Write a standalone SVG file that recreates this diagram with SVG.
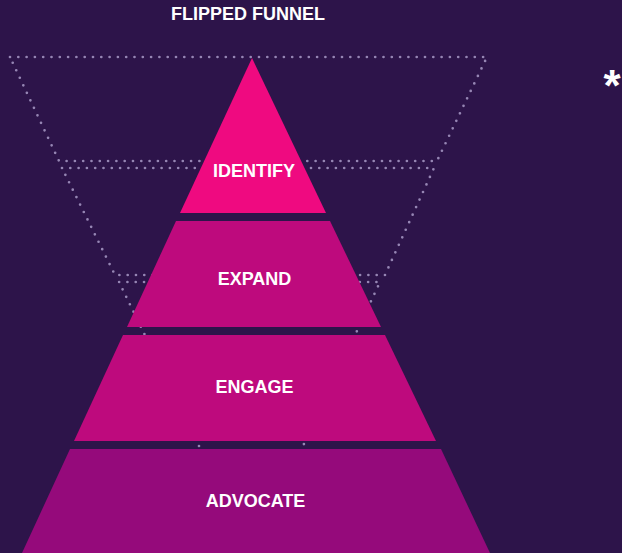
<svg xmlns="http://www.w3.org/2000/svg" width="622" height="553" viewBox="0 0 622 553">
<style>
.dot{fill:none;stroke:#9686B4;stroke-width:2.7;stroke-linecap:round;stroke-dasharray:0 8.3}
.lbl{font-family:"Liberation Sans",Arial,sans-serif;font-weight:bold;font-size:18px;fill:#FFFFFF;text-anchor:middle}
</style>
<rect width="622" height="553" fill="#2D144A"/>
<g id="funnel">
<polygon class="dot" points="10,57 487,57 437,161 59,161"/>
<polygon class="dot" points="62,168 434,168 385,275 115,275"/>
<polyline class="dot" points="199,446 119,282 380,282 303,446"/>
</g>
<g id="connectors"></g>
<g id="identify">
<polygon points="252,58 326,213 180,213" fill="#EF0A80"/>
<text class="lbl" x="254" y="177">IDENTIFY</text>
</g>
<g id="expand">
<polygon points="176,221 330,221 381,327 127,327" fill="#BE0A7D"/>
<text class="lbl" x="254.5" y="285">EXPAND</text>
</g>
<g id="engage">
<polygon points="123,335 385,335 436,441 74,441" fill="#BE0A7D"/>
<text class="lbl" x="254.5" y="393">ENGAGE</text>
</g>
<g id="advocate">
<polygon points="70,449 441,449 490,553 22,553" fill="#950A7B"/>
<text class="lbl" x="255.5" y="507">ADVOCATE</text>
</g>
<text class="lbl" x="248" y="20">FLIPPED FUNNEL</text>
<text x="612" y="101" font-family="Liberation Sans,Arial,sans-serif" font-weight="bold" font-size="44" fill="#FFFFFF" text-anchor="middle">*</text>
</svg>
